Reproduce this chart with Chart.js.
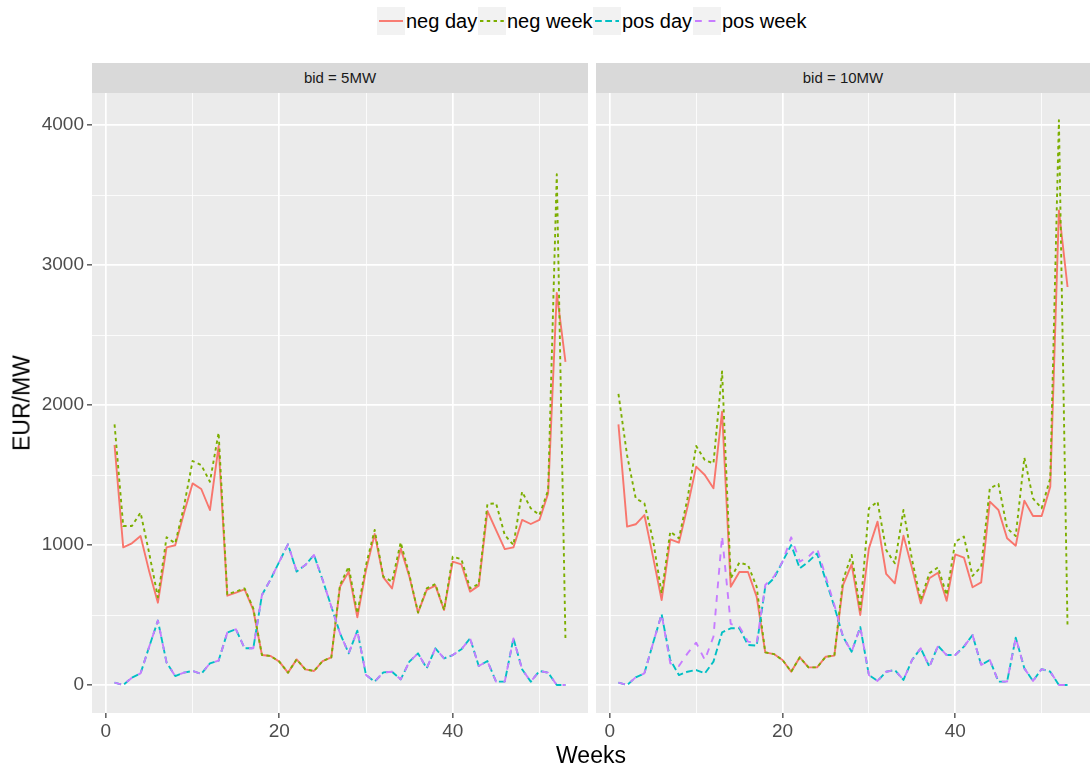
<!DOCTYPE html>
<html>
<head>
<meta charset="utf-8">
<script src="https://cdn.jsdelivr.net/npm/chart.js@4/dist/chart.umd.min.js"></script>
<style>
  html, body { margin: 0; padding: 0; background: #ffffff; }
  body { width: 1091px; height: 772px; position: relative; overflow: hidden; font-family: "Liberation Sans", Arial, sans-serif; }
  .abs { position: absolute; }
  .key { position: absolute; width: 28px; height: 28px; background: #F2F2F2; top: 7px; }
  .key svg { position: absolute; left: 0; top: 0; }
  .ltxt { position: absolute; top: 7px; height: 28px; line-height: 28px; font-size: 20px; color: #000; white-space: nowrap; }
  .strip { position: absolute; top: 63px; height: 30px; background: #D9D9D9; color: #1A1A1A; font-size: 15px; line-height: 30px; text-align: center; }
  canvas { position: absolute; }
</style>
</head>
<body>
<!-- legend -->
<div class="key" style="left:377px"><svg width="28" height="28"><line x1="2" y1="14" x2="26" y2="14" stroke="#F8766D" stroke-width="1.9"/></svg></div>
<div class="ltxt" style="left:406px">neg day</div>
<div class="key" style="left:478px"><svg width="28" height="28"><line x1="2" y1="14" x2="26" y2="14" stroke="#7CAE00" stroke-width="1.9" stroke-dasharray="3.4 3.4"/></svg></div>
<div class="ltxt" style="left:507px">neg week</div>
<div class="key" style="left:593px"><svg width="28" height="28"><line x1="2" y1="14" x2="26" y2="14" stroke="#00BFC4" stroke-width="1.9" stroke-dasharray="6.8 3.4"/></svg></div>
<div class="ltxt" style="left:622px">pos day</div>
<div class="key" style="left:693px"><svg width="28" height="28"><line x1="2" y1="14" x2="26" y2="14" stroke="#C77CFF" stroke-width="1.9" stroke-dasharray="6.8 6.8"/></svg></div>
<div class="ltxt" style="left:722px">pos week</div>

<!-- facet strips -->
<div class="strip" style="left:92px; width:496px;">bid = 5MW</div>
<div class="strip" style="left:596px; width:494px;">bid = 10MW</div>

<canvas id="c5" width="588" height="660" style="left:0px; top:93px;"></canvas>
<canvas id="c10" width="494" height="660" style="left:596px; top:93px;"></canvas>

<!-- axis titles -->
<div class="abs" style="left:22px; top:403px; transform: translate(-50%,-50%) rotate(-90deg); font-size:23px; color:#000; white-space:nowrap;">EUR/MW</div>
<div class="abs" style="left:591px; top:755px; transform: translate(-50%,-50%); font-size:23px; color:#000; white-space:nowrap;">Weeks</div>

<script>
// ---- data ----
const weeks = [1,2,3,4,5,6,7,8,9,10,11,12,13,14,15,16,17,18,19,20,21,22,23,24,25,26,27,28,29,30,31,32,33,34,35,36,37,38,39,40,41,42,43,44,45,46,47,48,49,50,51,52,53];

const seriesNames = ['neg day', 'neg week', 'pos day', 'pos week'];
const panelTitles = ['bid = 5MW', 'bid = 10MW'];

const negDay5  = [1714, 983, 1012, 1064, 810, 588, 983, 998, 1226, 1440, 1400, 1250, 1707, 638, 660, 683, 536, 214, 207, 167, 88, 183, 112, 100, 171, 198, 702, 810, 483, 821, 1079, 769, 690, 976, 774, 517, 679, 710, 536, 881, 862, 667, 710, 1243, 1107, 971, 983, 1179, 1150, 1179, 1369, 2800, 2308];
const negWeek5 = [1862, 1136, 1136, 1231, 940, 626, 1055, 1012, 1274, 1600, 1571, 1452, 1802, 648, 667, 690, 548, 214, 207, 167, 88, 183, 112, 100, 171, 198, 714, 845, 512, 857, 1107, 774, 738, 1019, 786, 517, 690, 721, 536, 917, 898, 690, 721, 1293, 1298, 1071, 1000, 1381, 1262, 1214, 1390, 3648, 326];
const posDay5  = [17, 0, 52, 83, 274, 460, 160, 64, 88, 100, 79, 155, 174, 374, 398, 262, 262, 643, 755, 881, 1005, 810, 857, 929, 750, 560, 370, 226, 388, 71, 24, 90, 95, 40, 167, 226, 119, 262, 190, 214, 255, 333, 136, 171, 24, 24, 333, 112, 24, 100, 88, 0, 0];
const posWeek5 = [17, 0, 52, 83, 274, 460, 160, 64, 88, 100, 79, 155, 174, 374, 398, 262, 262, 643, 755, 881, 1005, 815, 857, 929, 750, 560, 370, 226, 388, 71, 24, 90, 95, 40, 167, 226, 119, 262, 190, 214, 255, 333, 136, 171, 24, 24, 333, 112, 24, 100, 88, 0, 0];

const negDay10  = [1862, 1131, 1148, 1214, 917, 607, 1040, 1017, 1274, 1560, 1500, 1405, 1952, 702, 807, 807, 631, 233, 221, 179, 95, 198, 126, 126, 202, 210, 714, 862, 500, 976, 1167, 793, 726, 1067, 833, 583, 762, 802, 602, 933, 910, 698, 733, 1310, 1250, 1048, 995, 1317, 1207, 1207, 1417, 3390, 2843];
const negWeek10 = [2079, 1640, 1333, 1298, 1036, 655, 1095, 1048, 1333, 1707, 1607, 1583, 2240, 762, 874, 857, 702, 233, 221, 179, 95, 198, 126, 126, 202, 210, 750, 929, 536, 1262, 1310, 964, 869, 1250, 893, 607, 798, 840, 643, 1024, 1060, 779, 845, 1405, 1436, 1119, 1064, 1624, 1333, 1262, 1476, 4035, 408];
const posDay10  = [17, 0, 55, 83, 298, 505, 179, 71, 95, 107, 83, 167, 376, 405, 405, 286, 281, 702, 762, 881, 1000, 833, 881, 940, 750, 560, 345, 238, 414, 71, 29, 95, 107, 36, 179, 262, 131, 279, 214, 214, 274, 357, 143, 179, 24, 24, 338, 119, 29, 114, 95, 0, 0];
const posWeek10 = [17, 0, 55, 83, 298, 505, 155, 136, 226, 302, 179, 345, 1064, 436, 417, 310, 298, 714, 774, 881, 1055, 881, 917, 976, 774, 571, 345, 238, 414, 71, 29, 95, 107, 36, 179, 262, 131, 279, 214, 214, 274, 357, 143, 179, 24, 24, 338, 119, 29, 114, 95, 0, 0];

const xTickValues = [0, 10, 20, 30, 40, 50];
const xTickLabels = ['0', '', '20', '', '40', ''];
const yTickValues = [0, 500, 1000, 1500, 2000, 2500, 3000, 3500, 4000];
const yTickLabels = ['0', '', '1000', '', '2000', '', '3000', '', '4000'];

// ---- styling ----
const colors = ['#F8766D', '#7CAE00', '#00BFC4', '#C77CFF'];
const dashes = [[], [3.4, 3.4], [6.8, 3.4], [6.8, 6.8]];
const FONT = "'Liberation Sans', Arial, sans-serif";

const panelBg = {
  id: 'panelBg',
  beforeDraw(chart) {
    const { ctx, chartArea: a } = chart;
    ctx.save();
    ctx.fillStyle = '#EBEBEB';
    ctx.fillRect(a.left, a.top, a.right - a.left, a.bottom - a.top);
    ctx.restore();
  }
};

function isMajor(v, step) { return Math.abs(v % step) < 1e-9; }

function makePanel(id, values, showY) {
  // draw order: first dataset on top in Chart.js, so reverse (pos week on top like ggplot)
  const ds = [];
  for (let s = values.length - 1; s >= 0; s--) {
    ds.push({
      label: seriesNames[s],
      data: weeks.map((w, i) => ({ x: w, y: values[s][i] })),
      borderColor: colors[s],
      backgroundColor: colors[s],
      borderWidth: 1.9,
      borderDash: dashes[s],
      borderJoinStyle: 'round',
      borderCapStyle: 'butt',
      pointRadius: 0,
      tension: 0,
      fill: false
    });
  }
  return new Chart(document.getElementById(id), {
    type: 'line',
    data: { datasets: ds },
    options: {
      responsive: false,
      animation: false,
      events: [],
      layout: { padding: 0 },
      plugins: { legend: { display: false }, tooltip: { enabled: false }, title: { display: false } },
      scales: {
        x: {
          type: 'linear',
          min: -1.6, max: 55.6,
          afterBuildTicks: s => { s.ticks = xTickValues.map(v => ({ value: v })); },
          afterFit: s => { s.height = 40; s.paddingLeft = 0; s.paddingRight = 0; s.paddingTop = 0; s.paddingBottom = 0; },
          border: { display: false },
          grid: {
            color: '#FFFFFF',
            lineWidth: c => (c.tick && isMajor(c.tick.value, 20)) ? 1.7 : 0.8,
            drawTicks: true,
            tickLength: 5,
            tickWidth: 1.2,
            tickColor: c => (c.tick && isMajor(c.tick.value, 20)) ? '#333333' : 'rgba(0,0,0,0)'
          },
          ticks: {
            autoSkip: false, maxRotation: 0, minRotation: 0,
            padding: 2,
            color: '#4D4D4D',
            font: { family: FONT, size: 19 },
            callback: (v) => { const k = xTickValues.indexOf(v); return k >= 0 ? xTickLabels[k] : ''; }
          }
        },
        y: {
          type: 'linear',
          min: -200, max: 4228.6,
          afterBuildTicks: s => { s.ticks = yTickValues.map(v => ({ value: v })); },
          afterFit: s => { s.width = showY ? 92 : 0; s.paddingLeft = 0; s.paddingRight = 0; s.paddingTop = 0; s.paddingBottom = 0; },
          border: { display: false },
          grid: {
            color: '#FFFFFF',
            lineWidth: c => (c.tick && isMajor(c.tick.value, 1000)) ? 1.7 : 0.8,
            drawTicks: showY,
            tickLength: 5,
            tickWidth: 1.2,
            tickColor: c => (c.tick && isMajor(c.tick.value, 1000)) ? '#333333' : 'rgba(0,0,0,0)'
          },
          ticks: {
            display: showY,
            autoSkip: false,
            padding: 3,
            color: '#4D4D4D',
            font: { family: FONT, size: 19 },
            callback: (v) => { const k = yTickValues.indexOf(v); return k >= 0 ? yTickLabels[k] : ''; }
          }
        }
      }
    },
    plugins: [panelBg]
  });
}

makePanel('c5', [negDay5, negWeek5, posDay5, posWeek5], true);
makePanel('c10', [negDay10, negWeek10, posDay10, posWeek10], false);
</script>
</body>
</html>
